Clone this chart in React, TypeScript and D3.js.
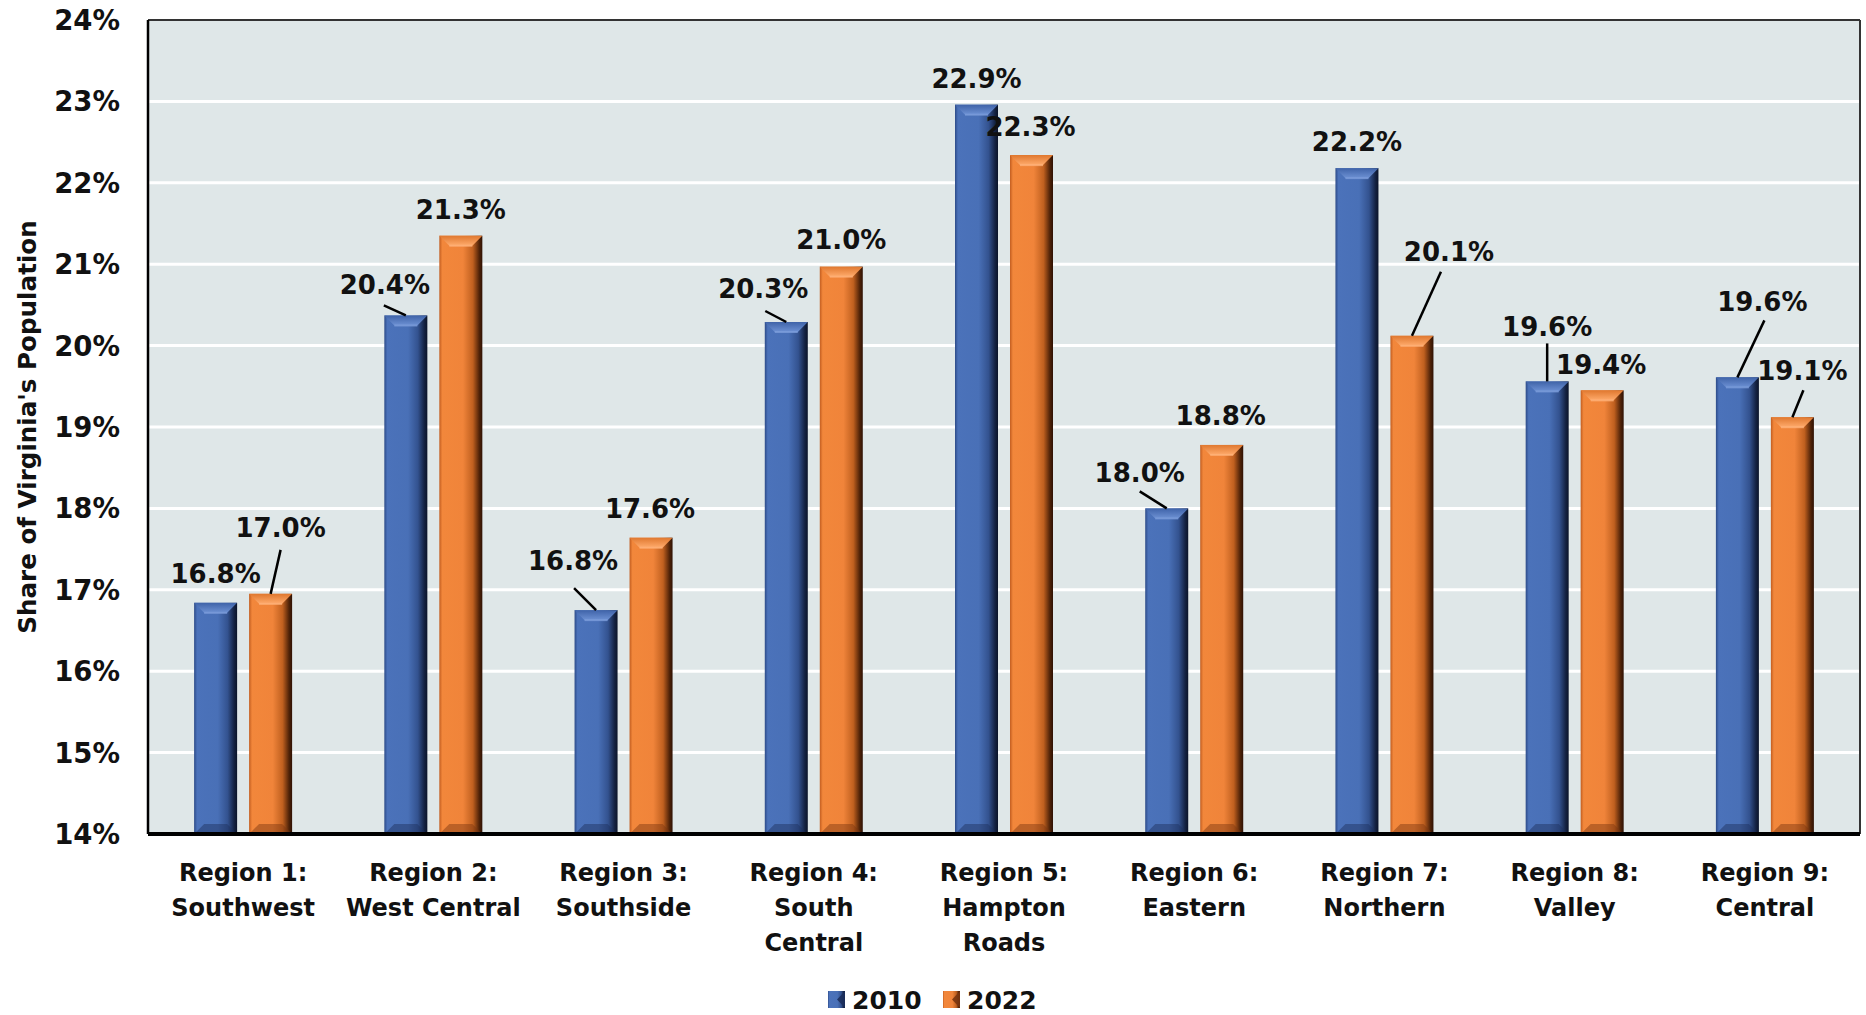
import React from "react";
import * as d3 from "d3";

const categories: string[][] = [
  ["Region 1:", "Southwest"],
  ["Region 2:", "West Central"],
  ["Region 3:", "Southside"],
  ["Region 4:", "South", "Central"],
  ["Region 5:", "Hampton", "Roads"],
  ["Region 6:", "Eastern"],
  ["Region 7:", "Northern"],
  ["Region 8:", "Valley"],
  ["Region 9:", "Central"],
];
const seriesNames = ["2010", "2022"];
const values2010 = [16.84, 20.37, 16.75, 20.29, 22.96, 18.0, 22.18, 19.56, 19.61];
const values2022 = [16.95, 21.35, 17.64, 20.97, 22.34, 18.78, 20.12, 19.45, 19.12];
const labels2010 = ["16.8%", "20.4%", "16.8%", "20.3%", "22.9%", "18.0%", "22.2%", "19.6%", "19.6%"];
const labels2022 = ["17.0%", "21.3%", "17.6%", "21.0%", "22.3%", "18.8%", "20.1%", "19.4%", "19.1%"];
const yTicks = [14, 15, 16, 17, 18, 19, 20, 21, 22, 23, 24];

// label placement offsets (px) relative to bar-top centre, and leader end points
const labelOffsets2010: [number, number][] = [[0, -29], [-21, -31], [-23, -50], [-23, -33], [0, -26], [-27, -36], [0, -27], [0, -55], [25, -76]];
const labelOffsets2022: [number, number][] = [[10, -66], [0, -26], [-1, -29], [0, -27], [-1, -28], [-1, -29], [37, -84], [-1, -26], [10, -47]];
const leaders2010: ([number, number] | null)[] = [null, [-22, -10], [-22, -22], [-21, -11], null, [-27, -17], null, [0, -38], [27, -57]];
const leaders2022: ([number, number] | null)[] = [[10, -44], null, null, null, null, null, [29, -64], null, [11, -27]];

const FONT = "'DejaVu Sans', sans-serif";

const W = 1866, H = 1015;
const L = 148, R = 1860, T = 20, B = 834;

export default function App() {
  const keys = categories.map((c) => c.join(" "));
  const x0 = d3.scaleBand<string>().domain(keys).range([L, R]).paddingInner(0).paddingOuter(0);
  const x1 = d3.scaleBand<string>().domain(seriesNames).range([0, 98]).paddingInner(0.218);
  const y = d3.scaleLinear().domain([14, 24]).range([B, T]);

  const series = [
    { name: "2010", values: values2010, labels: labels2010, offs: labelOffsets2010, leaders: leaders2010, grad: "gBlue", top: "tBlue", bot: "#1c2f5c", light: "#7c9ddb" },
    { name: "2022", values: values2022, labels: labels2022, offs: labelOffsets2022, leaders: leaders2022, grad: "gOrange", top: "tOrange", bot: "#7a3510", light: "#ffb27a" },
  ];

  const bw = x1.bandwidth();
  const bev = 10;

  return (
    <svg width={W} height={H} style={{ position: "absolute", left: 0, top: 0, background: "#fff" }}>
      <defs>
        <linearGradient id="gBlue" x1="0" x2="1" y1="0" y2="0">
          <stop offset="0" stopColor="#2d4b88" />
          <stop offset="0.07" stopColor="#4b72ba" />
          <stop offset="0.55" stopColor="#4970b7" />
          <stop offset="0.78" stopColor="#33528f" />
          <stop offset="0.93" stopColor="#142242" />
          <stop offset="1" stopColor="#0b1429" />
        </linearGradient>
        <linearGradient id="gOrange" x1="0" x2="1" y1="0" y2="0">
          <stop offset="0" stopColor="#c25d20" />
          <stop offset="0.07" stopColor="#f2873b" />
          <stop offset="0.55" stopColor="#f0843a" />
          <stop offset="0.78" stopColor="#c0601f" />
          <stop offset="0.93" stopColor="#4e2208" />
          <stop offset="1" stopColor="#2f1204" />
        </linearGradient>
        <linearGradient id="tBlue" x1="0" x2="0" y1="0" y2="1">
          <stop offset="0" stopColor="#3f63a8" />
          <stop offset="1" stopColor="#6d91d4" />
        </linearGradient>
        <linearGradient id="tOrange" x1="0" x2="0" y1="0" y2="1">
          <stop offset="0" stopColor="#e0782f" />
          <stop offset="1" stopColor="#ffab6c" />
        </linearGradient>
      </defs>

      {/* plot background */}
      <rect x={L} y={T} width={R - L} height={B - T} fill="#dfe7e8" />
      {yTicks.filter((t) => t > 14 && t < 24).map((t) => (
        <line key={t} x1={L} x2={R} y1={y(t)} y2={y(t)} stroke="#ffffff" strokeWidth={3} />
      ))}

      {/* bars */}
      {series.map((s) =>
        s.values.map((v, i) => {
          const bx = (x0(keys[i]) as number) + x0.bandwidth() / 2 - 49 + (x1(s.name) as number);
          const by = y(v);
          const bh = B - by;
          return (
            <g key={s.name + i}>
              <rect x={bx} y={by} width={bw} height={bh} fill={`url(#${s.grad})`} />
              <polygon
                points={`${bx},${by} ${bx + bw},${by} ${bx + bw - bev},${by + bev} ${bx + bev},${by + bev}`}
                fill={`url(#${s.top})`}
              />
              <line x1={bx + bev} x2={bx + bw - bev} y1={by + bev} y2={by + bev} stroke={s.light} strokeWidth={2} opacity={0.8} />
              <polygon
                points={`${bx},${B} ${bx + bw},${B} ${bx + bw - bev},${B - bev} ${bx + bev},${B - bev}`}
                fill={s.bot}
                opacity={0.45}
              />
            </g>
          );
        })
      )}

      {/* border */}
      <line x1={L} x2={R} y1={T} y2={T} stroke="#333" strokeWidth={2} />
      <line x1={R} x2={R} y1={T} y2={B} stroke="#333" strokeWidth={2} />
      <line x1={L} x2={L} y1={T} y2={B} stroke="#000" strokeWidth={2.5} />
      <line x1={L} x2={R} y1={B} y2={B} stroke="#000" strokeWidth={4} />

      {/* leaders and value labels */}
      {series.map((s) =>
        s.values.map((v, i) => {
          const cx = (x0(keys[i]) as number) + x0.bandwidth() / 2 - 49 + (x1(s.name) as number) + bw / 2;
          const cy = y(v);
          const ld = s.leaders[i];
          const off = s.offs[i];
          return (
            <g key={"l" + s.name + i}>
              {ld && <line x1={cx} y1={cy} x2={cx + ld[0]} y2={cy + ld[1]} stroke="#000" strokeWidth={2.5} />}
              <text x={cx + off[0]} y={cy + off[1]} dy="0.36em" textAnchor="middle" fontFamily={FONT} fontWeight="bold" fontSize={26} fill="#111">
                {s.labels[i]}
              </text>
            </g>
          );
        })
      )}

      {/* y ticks */}
      {yTicks.map((t) => (
        <text key={t} x={120} y={y(t)} dy="0.36em" textAnchor="end" fontFamily={FONT} fontWeight="bold" fontSize={27.5} fill="#111">
          {t}%
        </text>
      ))}

      {/* y title */}
      <text transform={`translate(27,427) rotate(-90)`} dy="0.36em" textAnchor="middle" fontFamily={FONT} fontWeight="bold" fontSize={24.6} fill="#111">
        Share of Virginia's Population
      </text>

      {/* category labels */}
      {categories.map((lines, i) => (
        <text key={i} textAnchor="middle" fontFamily={FONT} fontWeight="bold" fontSize={24} fill="#111">
          {lines.map((ln, j) => (
            <tspan key={j} x={(x0(keys[i]) as number) + x0.bandwidth() / 2} y={872 + j * 35} dy="0.36em">
              {ln}
            </tspan>
          ))}
        </text>
      ))}

      {/* legend */}
      {seriesNames.map((n, i) => {
        const lx = 828 + i * 115;
        const ly = 991;
        const s = series[i];
        return (
          <g key={n}>
            <rect x={lx} y={ly} width={17} height={17} fill={`url(#${s.grad})`} />
            <polygon points={`${lx + 17},${ly} ${lx + 17},${ly + 17} ${lx + 9},${ly + 8.5}`} fill={s.bot} opacity={0.9} />
            <text x={lx + 24} y={ly + 8.5} dy="0.36em" fontFamily={FONT} fontWeight="bold" fontSize={25} fill="#111">
              {n}
            </text>
          </g>
        );
      })}
    </svg>
  );
}
